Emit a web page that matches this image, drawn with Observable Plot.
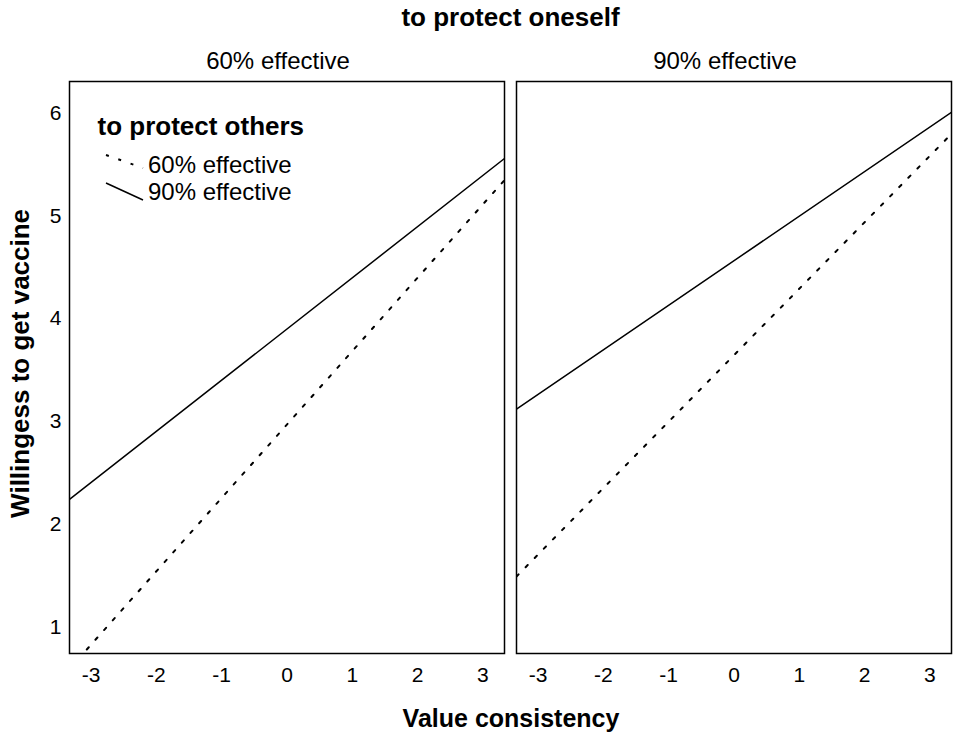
<!DOCTYPE html>
<html>
<head>
<meta charset="utf-8">
<script src="https://cdn.jsdelivr.net/npm/d3@7"></script>
<script src="https://cdn.jsdelivr.net/npm/@observablehq/plot@0.6"></script>
<style>
  html, body { margin: 0; padding: 0; background: #fff; }
  #chart { width: 957px; height: 737px; }
</style>
</head>
<body>
<div id="chart"></div>
<script>
// ---- data ----
const selfEffectiveness = ["60% effective", "90% effective"];   // facets: to protect oneself
const othersEffectiveness = ["60% effective", "90% effective"]; // lines: to protect others
const xEnds = [-3.33, 3.33];                                     // value consistency (line ends)
const self60_others60 = [0.59, 5.35];
const self60_others90 = [2.24, 5.56];
const self90_others60 = [1.49, 5.80];
const self90_others90 = [3.12, 6.01];
const xTicks = [-3, -2, -1, 0, 1, 2, 3];
const yTicks = [1, 2, 3, 4, 5, 6];
const xDomain = [-3.33, 3.33];
const yDomain = [0.74, 6.31];

const series = [
  [selfEffectiveness[0], othersEffectiveness[0], self60_others60],
  [selfEffectiveness[0], othersEffectiveness[1], self60_others90],
  [selfEffectiveness[1], othersEffectiveness[0], self90_others60],
  [selfEffectiveness[1], othersEffectiveness[1], self90_others90]
];
const rows = [];
for (const [self, others, ys] of series) {
  xEnds.forEach((x, i) => rows.push({self, others, x, y: ys[i]}));
}

const font = "'Liberation Sans', Arial, Helvetica, sans-serif";
const fmt = d => String(d);

const svg = Plot.plot({
  width: 957,
  height: 737,
  marginLeft: 69,
  marginRight: 5,
  marginTop: 81,
  marginBottom: 84,
  style: {fontFamily: font, background: "white", color: "black", overflow: "visible"},
  fx: {domain: selfEffectiveness, paddingInner: 0.026, paddingOuter: 0, label: null},
  x: {domain: xDomain},
  y: {domain: yDomain},
  marks: [
    Plot.frame({stroke: "black", strokeWidth: 1.5}),
    Plot.line(rows.filter(d => d.others === othersEffectiveness[0]), {
      x: "x", y: "y", fx: "self", stroke: "black", strokeWidth: 2,
      strokeDasharray: "3,10", clip: true
    }),
    Plot.line(rows.filter(d => d.others === othersEffectiveness[1]), {
      x: "x", y: "y", fx: "self", stroke: "black", strokeWidth: 1.5, clip: true
    }),
    Plot.axisX({ticks: xTicks, tickFormat: fmt, tickSize: 0, tickPadding: 14, fontSize: 21, label: null}),
    Plot.axisY({ticks: yTicks, tickFormat: fmt, tickSize: 0, tickPadding: 8, fontSize: 21, label: null}),
    Plot.axisFx({anchor: "top", tickSize: 0, tickPadding: 13, fontSize: 24, label: null, dx: -9})
  ]
});

document.getElementById("chart").appendChild(svg);

// ---- titles and legend ----
const s = d3.select(svg);
const g = s.append("g").attr("font-family", font).attr("fill", "black");

g.append("text")
  .attr("x", 510.5).attr("y", 26)
  .attr("text-anchor", "middle").attr("font-weight", "bold").attr("font-size", 26)
  .text("to protect oneself");

g.append("text")
  .attr("x", 511).attr("y", 726.5)
  .attr("text-anchor", "middle").attr("font-weight", "bold").attr("font-size", 25)
  .text("Value consistency");

g.append("text")
  .attr("transform", "translate(29,363.4) rotate(-90)")
  .attr("text-anchor", "middle").attr("font-weight", "bold").attr("font-size", 26)
  .text("Willingess to get vaccine");

const leg = g.append("g").attr("text-anchor", "start");
leg.append("text")
  .attr("x", 97.5).attr("y", 135)
  .attr("font-weight", "bold").attr("font-size", 26)
  .text("to protect others");
leg.append("line")
  .attr("x1", 106).attr("y1", 155).attr("x2", 143).attr("y2", 168)
  .attr("stroke", "black").attr("stroke-width", 2).attr("stroke-dasharray", "3,10");
leg.append("line")
  .attr("x1", 106).attr("y1", 183).attr("x2", 143).attr("y2", 200)
  .attr("stroke", "black").attr("stroke-width", 1.5);
leg.append("text")
  .attr("x", 148).attr("y", 173).attr("font-size", 24)
  .text(othersEffectiveness[0]);
leg.append("text")
  .attr("x", 148).attr("y", 200).attr("font-size", 24)
  .text(othersEffectiveness[1]);
</script>
</body>
</html>
